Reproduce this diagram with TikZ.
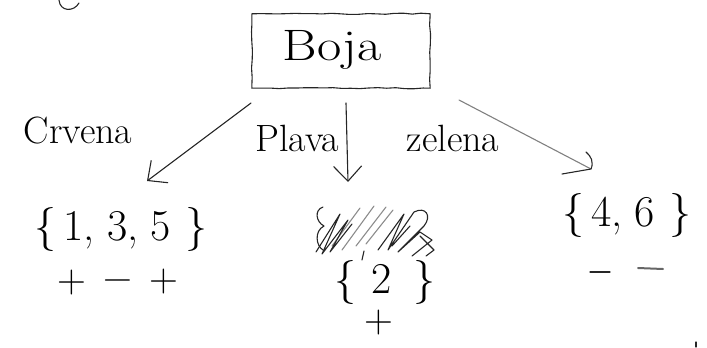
\documentclass[tikz,border=0pt]{standalone}
\usetikzlibrary{arrows.meta,decorations.pathmorphing}
\begin{document}
\begin{tikzpicture}[x=1pt,y=-1pt,
  pen/.style={line width=1.1pt, black!85, line cap=round, line join=round},
  faint/.style={line width=1.1pt, black!45, line cap=round, line join=round},
  shaky/.style={decorate, decoration={random steps, segment length=9pt, amplitude=0.6pt}},
  barb/.style={-{Straight Barb[length=15pt,width=28pt]}},
  lbl/.style={inner sep=0pt, font=\fontsize{38}{40}\selectfont},
  setfont/.style={inner sep=0pt, font=\fontsize{44}{48}\selectfont},
  sign/.style={inner sep=0pt, font=\fontsize{40}{42}\selectfont}]
\pgfmathsetseed{7}
\useasboundingbox (0,0) rectangle (707,348);

% root attribute box
\node[inner sep=0pt, minimum width=178pt, minimum height=74pt] (boja) at (341,51) {};
\draw[pen, shaky] (boja.north west) rectangle (boja.south east);
\node[inner sep=0pt, font=\fontsize{44}{46}\selectfont] (bojatxt) at (332,50) {\scalebox{1.2}[1]{Boja}};

% branch labels
\node[lbl] (crvena) at (78,131) {Crvena};
\node[lbl] (plava) at (297,138) {Plava};
\node[lbl] (zelena) at (453,138) {zelena};

% arrow end points
\coordinate (l0) at (251,103);
\coordinate (l1) at (147,181);
\coordinate (m0) at (346,103);
\coordinate (m1) at (348,182);
\coordinate (r0) at (459,100);
\coordinate (r1) at (591,169);

\draw[pen, barb] (l0) -- (l1);
\draw[pen, barb] (m0) -- (m1);
\draw[line width=1.1pt, black!50, line cap=round] (r0) -- (r1);
\draw[pen] (562,174) -- (591,169) .. controls (594,162) and (591,156) .. (586,152);

% value sets
\node[setfont] (s135) at (121,229) {\{\,1,\;3,\;5\,\,\}};
\node[setfont] (s46) at (627,215) {\{\,4,\;6\,\,\}};
\node[setfont] (s2) at (385,282) {\{\,\,2\,\,\,\}};

% crossed-out first attempt of the middle set
\draw[faint] (332,246) -- (360,208) (342,250) -- (374,206) (356,246) -- (386,207) (366,244) -- (393,210);
\draw[pen] (323,207) .. controls (314,210) and (316,222) .. (324,226)
           .. controls (314,231) and (316,246) .. (323,250);
\draw[pen] (316,252) -- (340,214) -- (322,254) -- (348,220) -- (330,252) -- (352,224)
           (378,250) -- (404,214) -- (388,250) -- (414,212)
           .. controls (426,206) and (432,216) .. (424,226) -- (398,252) -- (420,232)
           -- (432,240) -- (412,256) (420,236) -- (434,250) -- (426,256)
           (392,246) -- (410,226);
\draw[pen] (364,251) -- (362,260);

% class signs under each set
\node[sign] (p1) at (72,283) {+};
\node[sign] (n1) at (118,285) {\symbol{"2212}};
\node[sign] (p2) at (164,282) {+};
\node[sign] (p3) at (379,323) {+};
\draw[pen] (590,272) -- (610,272);
\draw[line width=2pt, black!60, line cap=round] (638,268) -- (663,269);

% stray pen marks
\draw[pen] (59,0) .. controls (60,12) and (74,12) .. (79,3);
\draw[pen] (696,342) -- (696,347);
\end{tikzpicture}
\end{document}
